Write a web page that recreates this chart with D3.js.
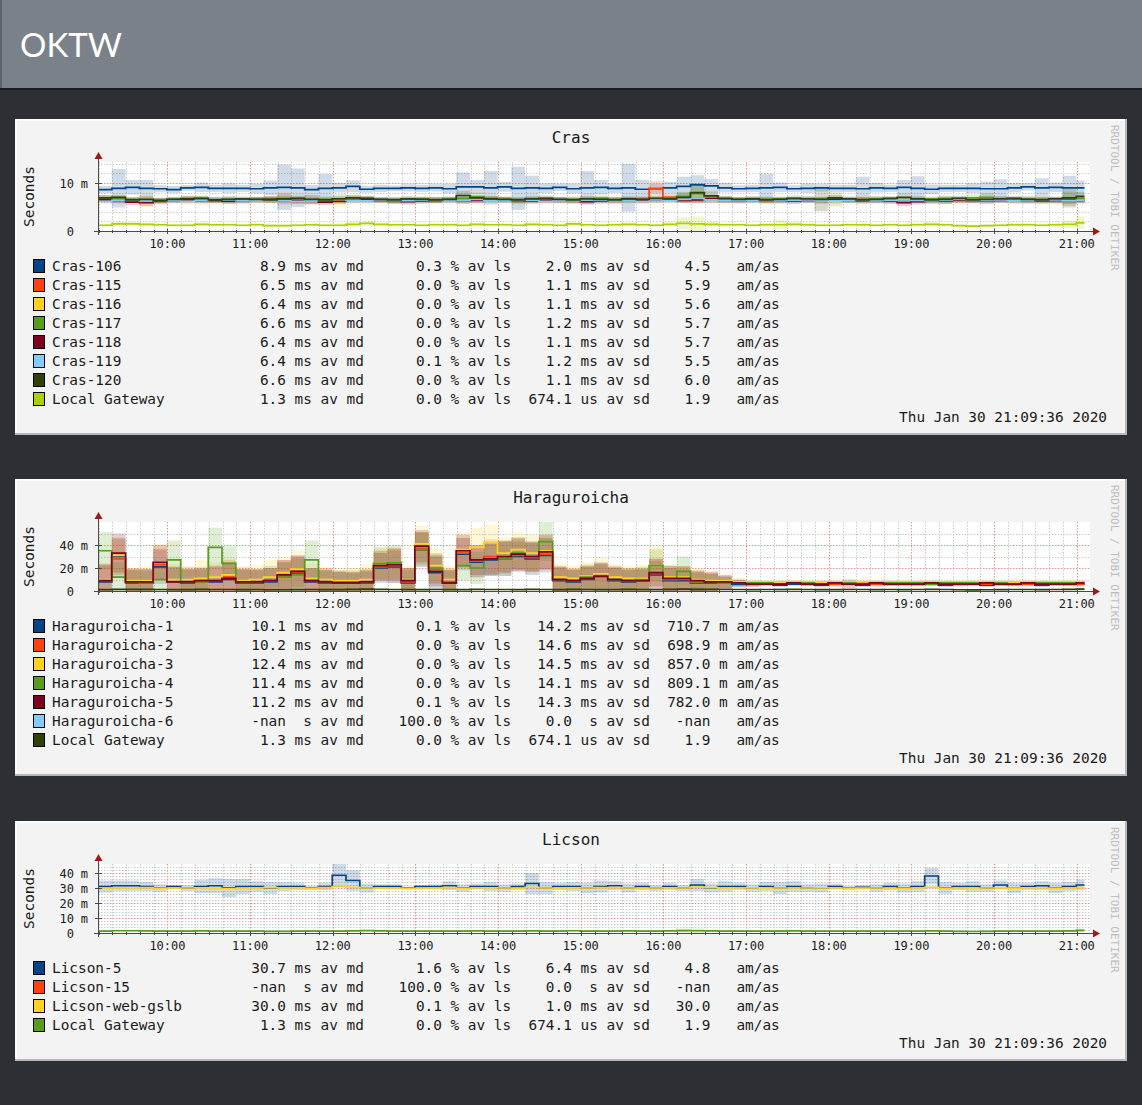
<!DOCTYPE html>
<html>
<head>
<meta charset="utf-8">
<title>OKTW</title>
<script src="https://cdn.jsdelivr.net/npm/d3@7/dist/d3.min.js"></script>
<style>
  body { margin:0; background:#2c3034; }
  svg { display:block; }
  text { font-family:"DejaVu Sans Mono", monospace; fill:#1a1a1a; white-space:pre; }
</style>
</head>
<body>
<svg id="page" width="1142" height="1105"></svg>
<script>
// ---- data: one value per 10 minutes, 9:10 .. 21:00 (ms) ----

// Cras
var crasNames = ['Cras-106','Cras-115','Cras-116','Cras-117','Cras-118','Cras-119','Cras-120','Local Gateway'];
var c106 = [8.6,8.9,9.1,8.9,8.8,8.6,9.0,9.1,8.9,8.9, 8.9,8.8,9.0,9.1,9.0,8.6,8.9,9.0,9.3,8.7, 8.9,8.9,9.0,8.9,9.0,8.8,9.2,9.2,9.0,9.2, 8.9,9.0,8.9,9.1,8.8,9.0,9.1,8.9,9.0,8.7, 8.8,9.0,9.3,9.6,9.4,9.0,8.8,8.9,9.0,9.1, 8.8,8.9,9.0,8.9,8.9,8.8,9.0,8.9,9.1,8.9, 8.7,8.9,8.9,8.9,8.8,8.8,9.0,9.2,9.0,9.1, 9.0,9.0];
var s106 = [1.5,8,3,3.5,1.5,1.5,1.2,2,1.5,2, 1.5,2,3,9.5,8,2,6,2,2.5,1.5, 1.5,1.2,1.5,1.5,1.5,2,6,3,7,2, 9,5,2,1.5,2,7,3,2,10,4, 2,2.5,4,4,3,2,1.5,1.5,6,2, 1.5,2,1.5,1.5,1.5,5,2,1.5,3,5, 2,1.5,1.5,2,3,4,2,1.5,4,2, 5,3];
var c115 = [6.8,6.6,6.4,6.5,6.3,6.4,6.6,6.5,6.3,6.4, 6.5,6.4,6.6,6.7,6.4,6.5,6.3,6.4,6.6,6.5, 6.4,6.3,6.5,6.6,6.4,6.5,6.3,6.6,6.7,6.5, 6.4,6.5,6.6,6.3,6.4,6.5,6.6,6.4,6.5,6.6, 8.9,7.0,6.5,6.7,6.6,6.4,6.5,6.5,6.3,6.4, 6.6,6.5,6.3,6.4,6.5,6.6,6.4,6.3,6.5,6.4, 6.2,6.3,6.5,6.4,6.6,6.5,6.3,6.4,6.6,6.5, 6.4,6.5];
var s115 = [1,1.2,1,1.5,1,1,1.2,1,1,1.3, 1,1,1.5,2.5,1.5,1,1.2,1,1.3,1, 1,1.2,1,1,1.3,1,1,1.5,1.2,1, 1,1.3,1,1,1.2,1,1,1.3,1,1.2, 3,1.5,1.2,1.5,1.3,1,1.2,1,1,1.2, 1,1,1.3,1,1,1.2,1,1,1.5,1, 1,1.2,1,1,1.3,1,1.2,1,1,1.2, 1.5,1.3];
var c116 = [6.5,6.3,6.4,6.2,6.3,6.5,6.4,6.3,6.5,6.4, 6.2,6.3,6.4,6.5,6.6,6.3,6.4,6.2,6.3,6.5, 6.4,6.3,6.2,6.4,6.5,6.4,6.3,6.5,6.4,6.6, 6.3,6.4,6.5,6.3,6.2,6.4,6.5,6.3,6.4,6.5, 6.6,6.4,6.5,6.7,6.5,6.3,6.4,6.5,6.3,6.4, 6.5,6.4,6.3,6.2,6.4,6.5,6.6,6.4,6.3,6.4, 6.3,6.2,6.4,6.5,6.6,6.4,6.3,6.5,6.4,6.3, 6.5,6.4];
var s116 = [1,1.2,1.1,2.5,1,1,1.2,1,1.1,1, 1.2,1,1.1,1.3,1,1,1.2,2.5,1.5,1, 1.1,1,1.2,1,1.1,1,1.3,1,1,1.2, 1,1.1,1.2,1,1,1.1,1.3,1,1.1,1, 1.5,1.2,1,2,1.1,1,1.2,1,1,1.1, 1,1.2,1,1,1.1,1,1,1.2,1,1, 1.1,1,1.2,1,1.3,1,1,1.1,1.2,1, 1.5,1.2];
var c117 = [6.9,6.7,6.6,6.5,6.4,6.6,6.7,6.8,6.6,6.5, 6.4,6.6,6.7,6.8,6.6,6.5,6.6,6.7,6.9,6.6, 6.5,6.4,6.6,6.7,6.5,6.6,6.8,7.1,6.7,6.6, 6.5,6.6,6.7,6.5,6.6,6.7,6.8,6.6,6.5,6.6, 6.7,6.8,7.2,7.8,7.0,6.7,6.6,6.5,6.6,6.7, 6.5,6.6,6.7,6.6,6.5,6.6,6.7,6.5,6.4,6.6, 6.7,6.8,6.6,6.9,7.0,6.6,6.5,6.7,6.6,6.5, 6.7,6.8];
var s117 = [1.2,1.1,1,1.3,1.2,1,1.1,1.2,1,1.3, 1.1,1,1.2,1.5,1.1,1,1.2,2,1.3,1.1, 1,1.2,1.1,1,1.2,1.1,1.5,1.8,1.2,1, 1.1,1.2,1,1.1,1.3,1,1.2,1.1,1,1.2, 1.1,1.2,2,3,1.5,1.2,1,1.1,1.2,1, 1.1,1.2,1,3,1.2,1,1.1,1,1.2,1.1, 1,1.2,1.1,1.5,1.8,1.2,1,1.1,1,1.2, 3,1.5];
var c118 = [6.5,6.3,6.0,5.9,6.2,6.4,6.5,6.3,6.4,6.2, 6.3,6.5,6.6,6.4,6.3,6.5,6.0,6.2,6.5,6.6, 6.4,6.3,6.1,6.2,6.4,6.5,6.3,6.4,6.6,6.5, 6.3,6.2,6.4,6.5,6.3,6.1,6.2,6.4,6.5,6.3, 6.5,6.6,6.4,6.5,6.7,6.4,6.3,6.5,6.4,6.3, 6.2,6.4,6.5,6.6,6.4,6.3,6.4,6.2,5.9,6.1, 6.3,6.2,6.4,6.3,6.2,6.4,6.5,6.3,6.2,6.3, 6.4,6.3];
var s118 = [1.1,1,1.2,1.5,1.1,1,1.2,1.1,1,1.2, 1,1.1,1.2,1,1.1,2,1.2,1,1.1,1.3, 1,1.1,1.2,1,1.1,1,1.2,1.1,1,1.1, 1.2,1,1.1,1.2,1,1.1,1,1.2,1.1,1, 1.2,1.1,1,1.2,1.5,1.1,1,1.1,1.2,1, 1.1,1,1.2,1.1,1,1.2,1.1,1,1.5,1.2, 1,1.1,1.2,1,1.1,1,1.2,1.1,1,1.1, 1.2,1.1];
var c119 = [6.2,6.4,6.5,6.3,6.4,6.3,6.2,6.4,6.6,6.5, 6.3,6.4,6.5,6.3,6.2,6.4,6.5,6.6,6.4,6.3, 6.5,6.4,6.3,6.4,6.5,6.3,6.4,6.6,6.4,6.3, 6.5,6.4,6.2,6.4,6.3,6.5,6.4,6.3,6.4,6.2, 6.5,6.4,6.6,6.8,6.5,6.4,6.3,6.4,6.5,6.3, 6.4,6.5,6.4,6.3,6.4,6.5,6.3,6.4,6.5,6.4, 6.3,6.4,6.6,6.4,6.3,6.5,6.4,6.3,6.4,6.5, 6.3,6.4];
var s119 = [1.2,1.3,1.1,1.2,1,1.2,1.3,1.1,1.2,1.4, 1.2,1.1,1.3,1.2,1.1,1.2,1.3,1.2,1.1,1.2, 1.3,1.1,1.2,1.2,1.3,1.1,1.2,2,1.2,1.1, 1.2,1.3,1.1,1.2,1.2,1.3,1.1,1.2,1.3,1.2, 1.1,1.2,1.3,1.5,1.2,1.1,1.2,1.3,1.2,1.1, 1.2,1.3,1.1,1.2,1.2,1.1,1.3,1.2,1.1,1.2, 1.3,1.2,1.1,1.2,1.3,1.2,1.1,1.2,1.3,1.2, 1.4,1.2];
var c120 = [6.9,7.0,6.5,6.6,6.4,6.6,6.7,6.8,6.5,6.6, 6.7,6.6,6.5,6.7,6.8,6.6,6.5,6.7,6.9,6.8, 6.6,6.5,6.7,6.6,6.5,6.6,7.4,6.9,6.7,6.6, 6.5,6.7,6.8,6.6,6.5,6.7,6.6,6.5,6.7,6.6, 6.8,6.7,7.0,8.0,7.3,6.8,6.6,6.7,6.5,6.6, 6.8,6.7,6.6,6.9,6.7,6.5,6.6,6.8,7.0,6.7, 6.5,6.6,6.8,6.5,6.6,6.7,6.8,6.6,6.5,6.7, 6.9,7.2];
var s120 = [1.2,1,1.1,1.2,1,1.1,1.3,1,1.1,1.2, 1,1.1,1.2,1,1.1,2,1.1,1,1.2,1.1, 1,1.2,1.1,1,1.1,1.2,2,1.1,1,1.2, 1.1,1,1.2,1.1,1,1.1,1.2,1,1.1,1, 1.2,1.1,2,4,2,1.1,1,1.2,1.1,1, 1.2,1.1,5,1.2,1,1.1,1.2,1,1.5,1.1, 1,1.2,1.1,1,1.2,1.1,1,1.2,1.1,1, 4,2];

// Local Gateway (same host in every graph)
var gwMedian = [1.2,1.5,1.5,1.4,1.3,1.2,1.2,1.4,1.3,1.3, 1.2,1.3,1.1,1.1,1.2,1.3,1.2,1.2,1.4,1.6, 1.4,1.3,1.3,1.2,1.3,1.3,1.2,1.4,1.3,1.3, 1.2,1.4,1.3,1.2,1.5,1.3,1.2,1.3,1.4,1.3, 1.2,1.4,1.6,1.5,1.4,1.3,1.3,1.2,1.3,1.3, 1.4,1.3,1.2,1.2,1.3,1.3,1.2,1.3,1.2,1.3, 1.4,1.3,1.1,1.0,1.1,1.2,1.3,1.3,1.2,1.3, 1.4,1.7];
var gwSd = [0.6,0.8,0.7,0.6,0.5,0.6,0.7,0.6,0.5,0.6, 0.6,0.7,0.6,0.5,0.6,0.6,0.7,0.8,0.9,0.8, 0.6,0.6,0.5,0.6,0.6,0.7,0.6,0.6,0.5,0.6, 0.6,0.7,0.6,0.6,0.8,0.6,0.5,0.6,0.7,0.6, 0.6,0.8,2.5,3,0.9,0.7,0.6,0.6,0.7,2, 0.8,0.6,0.6,0.5,0.6,0.6,0.7,0.6,0.6,0.7, 0.8,0.6,0.5,0.6,0.5,0.6,0.6,0.7,0.6,0.7, 1.5,2.5];

// Haraguroicha
var haraNames = ['Haraguroicha-1','Haraguroicha-2','Haraguroicha-3','Haraguroicha-4','Haraguroicha-5','Haraguroicha-6','Local Gateway'];
var h1 = [8,30,7,7,21,8,7,8,8,10, 7,7,8,12,15,8,7,7,7,7, 20,21,7,36,16,7,32,25,27,28, 30,28,31,9,8,10,12,9,8,9, 14,9,9,7,7,7,6,6,6,5, 6,6,5,6,6,5,6,6,6,6, 6,5,6,6,5,6,6,6,5,6, 6,6];
var h2 = [9,28,8,7,23,8,8,8,9,12, 8,8,9,13,16,9,8,7,7,8, 21,22,8,37,19,8,33,26,30,29, 31,29,32,10,9,11,12,10,9,9, 15,10,10,8,8,7,7,6,7,6, 7,6,6,6,7,7,6,6,7,6, 6,6,6,7,6,6,6,6,6,7, 6,6];
var h3 = [10,31,9,9,25,10,10,11,12,14, 9,10,12,16,19,11,10,9,9,10, 24,25,10,41,22,10,36,38,42,33, 36,33,35,12,11,13,15,12,11,11, 22,12,12,10,9,9,8,8,8,8, 8,8,8,8,8,8,8,8,8,8, 8,8,8,8,8,8,8,8,8,8, 8,8];
var h4 = [35,12,8,8,10,27,8,8,38,24, 8,8,9,12,14,27,8,8,8,8, 24,25,9,36,20,8,22,20,28,28, 33,30,43,10,9,12,12,10,9,10, 22,10,17,8,8,7,7,7,7,6, 7,7,6,7,7,6,7,7,7,7, 6,7,7,7,7,7,6,7,7,7, 7,7];
var h5 = [9,33,8,8,25,8,8,9,9,11, 8,8,9,14,17,9,8,7,7,8, 22,23,9,39,17,7,35,27,28,30, 32,30,34,10,9,11,13,10,9,9, 16,11,11,9,8,8,7,6,6,6, 7,6,6,7,6,6,7,6,6,6, 7,6,6,6,7,6,6,7,6,6, 6,7];
var sh1 = [28,32,22,24,30,26,24,22,26,28, 24,22,24,26,30,24,22,20,18,20, 26,28,22,30,30,22,28,26,28,30, 26,28,30,22,20,22,24,22,20,22, 24,22,20,18,16,12,6,4,3,3, 3,3,4,3,3,3,3,3,4,3, 3,3,3,3,3,3,3,3,3,3, 3,4];
var sh2 = [30,34,24,20,28,22,26,22,24,30, 26,22,20,28,28,20,24,18,20,22, 24,30,24,28,26,24,26,28,30,28, 28,26,28,24,22,20,22,24,22,20, 26,20,22,18,18,10,5,4,3,3, 4,3,3,4,3,3,4,3,3,4, 3,3,4,3,3,3,4,3,3,3, 4,3];
var sh3 = [26,32,22,26,32,28,22,32,26,28, 22,26,30,28,32,26,22,20,22,26, 28,26,24,32,30,24,30,34,32,28, 30,32,28,24,22,24,28,22,22,24, 34,22,20,20,16,12,6,4,3,3, 3,3,3,3,3,4,3,3,3,3, 3,3,3,3,4,3,3,3,3,3, 3,3];
var sh4 = [32,26,22,22,28,34,22,26,34,30, 22,22,26,26,28,34,22,20,20,22, 28,30,22,30,26,22,26,28,30,30, 28,26,34,22,20,22,24,20,22,22, 28,24,26,18,14,10,5,4,3,3, 3,3,3,3,3,3,3,4,3,3, 3,3,3,3,3,3,3,3,3,3, 3,3];
var sh5 = [28,34,22,22,30,26,22,22,26,28, 22,22,22,26,28,22,20,20,18,20, 26,28,22,28,26,22,28,26,28,28, 28,26,30,22,20,22,24,22,20,20, 24,22,21,18,16,12,6,4,3,3, 3,3,3,3,8,3,3,3,3,3, 3,3,3,3,3,3,3,3,3,3, 3,3];

// Licson
var licsonNames = ['Licson-5','Licson-15','Licson-web-gslb','Local Gateway'];
var l5 = [31,31.5,31.5,31,30,31,30,31,31.5,30, 31,31,30,31,31,30,31,38.5,35,30, 31,31,30,31,31,31.5,30,31,31,30, 31,33,30,31,31,30,31,31.5,30,31, 30,31,30,32,30,31,31,30,31,30, 31,30,30,31,30,30.5,30,31,30,31, 38,30,31,31,30,32,30,31,31.5,30, 31,32];
var sl5 = [8,7,7,6,5,2,4,9,10,12, 10,7,8,6,5,3,5,16,14,6, 3,3,2,2,3,6,5,4,6,5, 4,14,8,5,6,7,8,6,6,5, 4,5,4,8,6,7,5,5,6,8, 7,5,6,4,3,3,5,5,6,7, 11,8,5,7,5,6,7,5,6,7, 6,7];
var lweb = [29.8,30,30,30.2,29.8,29.9,30,30.1,29.7,29.5, 29.8,30,30.2,30,30.1,29.8,30.2,31,30.5,30, 29.9,30,29.8,29.7,30,30.2,29.8,30,30.1,30, 29.6,30.5,30,29.9,30.1,30,30.2,30.3,30,29.8, 30,30.1,30,30.6,30.2,29.9,30,30.1,29.9,30, 30,30,30.1,30,29.8,29.9,30,29.7,29.8,30, 30.5,29.8,30,29.9,30,30,29.9,30.1,30,29.8, 30,30.2];
var slweb = [1,1.2,0.8,1,0.9,1,1.1,1.3,1,1.5, 1.2,1,0.9,1,1.1,1,1.2,1.8,1.5,1, 0.9,1,1,0.8,1,1.1,1,0.9,1,1, 1.2,1.5,1,1,0.9,1,1.1,1,1,1.2, 1,1,0.9,1.3,1.1,1,1,1.5,1.2,1, 1,0.9,1,1.1,1,1,1,1.2,1,1, 1.2,1,1,0.9,1,1.1,1,1,1.2,1.1, 1.3,1.5];

// legend statistics: median, unit, loss %, sd, unit, am/as, unit
var crasStats = [
  ['8.9','ms','0.3','2.0','ms','4.5',''],
  ['6.5','ms','0.0','1.1','ms','5.9',''],
  ['6.4','ms','0.0','1.1','ms','5.6',''],
  ['6.6','ms','0.0','1.2','ms','5.7',''],
  ['6.4','ms','0.0','1.1','ms','5.7',''],
  ['6.4','ms','0.1','1.2','ms','5.5',''],
  ['6.6','ms','0.0','1.1','ms','6.0',''],
  ['1.3','ms','0.0','674.1','us','1.9','']
];
var haraStats = [
  ['10.1','ms','0.1','14.2','ms','710.7','m'],
  ['10.2','ms','0.0','14.6','ms','698.9','m'],
  ['12.4','ms','0.0','14.5','ms','857.0','m'],
  ['11.4','ms','0.0','14.1','ms','809.1','m'],
  ['11.2','ms','0.1','14.3','ms','782.0','m'],
  ['-nan','s','100.0','0.0','s','-nan',''],
  ['1.3','ms','0.0','674.1','us','1.9','']
];
var licsonStats = [
  ['30.7','ms','1.6','6.4','ms','4.8',''],
  ['-nan','s','100.0','0.0','s','-nan',''],
  ['30.0','ms','0.1','1.0','ms','30.0',''],
  ['1.3','ms','0.0','674.1','us','1.9','']
];

var palette = ['#004586','#ff420e','#ffd320','#579d1c','#7e0021','#83caff','#314004','#aecf00'];
var stamp = 'Thu Jan 30 21:09:36 2020';

var panels = [
  { title:'Cras', top:119, yMax:14.375, labels:[0,10], major:10, minor:2,
    names:crasNames, stats:crasStats,
    median:[c106,c115,c116,c117,c118,c119,c120,gwMedian],
    sd:[s106,s115,s116,s117,s118,s119,s120,gwSd] },
  { title:'Haraguroicha', top:479, yMax:60, labels:[0,20,40], major:20, minor:10,
    names:haraNames, stats:haraStats,
    median:[h1,h2,h3,h4,h5,null,gwMedian],
    sd:[sh1,sh2,sh3,sh4,sh5,null,gwSd] },
  { title:'Licson', top:821, yMax:46, labels:[0,10,20,30,40], major:10, minor:2,
    names:licsonNames, stats:licsonStats,
    median:[l5,null,lweb,gwMedian],
    sd:[sl5,null,slweb,gwSd] }
];

// ---- drawing ----
var t0 = new Date(2020,0,30,9,9,36), t1 = new Date(2020,0,30,21,9,36);
var x = d3.scaleTime().domain([t0,t1]).range([98,1090]);
var tEnd = new Date(+t1 - 4*60000);
function tAt(i){ return new Date(+t0 + i*600000); }

var svg = d3.select('#page');
var defs = svg.append('defs');
svg.append('rect').attr('width',1142).attr('height',1105).attr('fill','#2c3034');

// page header
svg.append('rect').attr('x',0).attr('y',0).attr('width',1142).attr('height',88).attr('fill','#7b8189');
svg.append('rect').attr('x',0).attr('y',0).attr('width',2).attr('height',88).attr('fill','#5f646b');
svg.append('rect').attr('x',0).attr('y',88).attr('width',1142).attr('height',2).attr('fill','#1b1e21');
svg.append('text').attr('x',20).attr('y',57).text('OKTW')
  .style('font-family','Lato, "Open Sans", sans-serif').style('font-size','33px').style('fill','#ffffff');

function legendLine(name, s){
  return name.padEnd(23) + s[0].padStart(4) + ' ' + s[1].padStart(2) + ' av md' +
    s[2].padStart(9) + ' % av ls' + s[3].padStart(7) + ' ' + s[4].padStart(2) + ' av sd' +
    s[5].padStart(7) + ' ' + (s[6] || ' ') + ' am/as';
}

panels.forEach(function(p, pi){
  var T = p.top, n = p.names.length, H = 164 + n*19, L = 15, W = 1112;
  var g = svg.append('g');

  // canvas with bevel
  g.append('rect').attr('x',L).attr('y',T).attr('width',W).attr('height',H).attr('fill','#f3f3f3');
  g.append('path').attr('d','M'+(L+1)+','+(T+H)+'V'+(T+1)+'H'+(L+W))
    .attr('fill','none').attr('stroke','#fdfdfd').attr('stroke-width',2);
  g.append('path').attr('d','M'+L+','+(T+H-1)+'H'+(L+W-1)+'V'+T)
    .attr('fill','none').attr('stroke','#b7b7b7').attr('stroke-width',2);

  var yTop = T+43, yBot = T+112;
  var y = d3.scaleLinear().domain([0,p.yMax]).range([yBot,yTop]);
  var xl = x.range()[0], xr = x.range()[1];

  g.append('rect').attr('x',xl).attr('y',yTop).attr('width',xr-xl).attr('height',yBot-yTop).attr('fill','#ffffff');

  // grid
  var minorT = x.ticks(d3.timeMinute.every(10)).filter(function(d){ return d.getMinutes() !== 0; });
  var hours = x.ticks(d3.timeHour.every(1));
  var minorY = d3.range(p.minor, p.yMax, p.minor).filter(function(v){ return v % p.major !== 0; });
  var majorY = d3.range(p.major, p.yMax, p.major);
  var grid = g.append('g').attr('stroke-dasharray','1.5,1.5').attr('stroke-width',1);
  grid.selectAll('.vm').data(minorT).join('line')
    .attr('x1',function(d){ return Math.round(x(d))+0.5; }).attr('x2',function(d){ return Math.round(x(d))+0.5; })
    .attr('y1',yTop).attr('y2',yBot).attr('stroke','#cccccc');
  grid.selectAll('.hm').data(minorY).join('line')
    .attr('x1',xl).attr('x2',xr)
    .attr('y1',function(v){ return Math.round(y(v))+0.5; }).attr('y2',function(v){ return Math.round(y(v))+0.5; })
    .attr('stroke','#cccccc');
  grid.selectAll('.vM').data(hours).join('line')
    .attr('x1',function(d){ return Math.round(x(d))+0.5; }).attr('x2',function(d){ return Math.round(x(d))+0.5; })
    .attr('y1',yTop).attr('y2',yBot).attr('stroke','#ef8f8f');
  grid.selectAll('.hM').data(majorY).join('line')
    .attr('x1',xl).attr('x2',xr)
    .attr('y1',function(v){ return Math.round(y(v))+0.5; }).attr('y2',function(v){ return Math.round(y(v))+0.5; })
    .attr('stroke','#ef8f8f');

  // smoke and median lines
  defs.append('clipPath').attr('id','clip'+pi).append('rect')
    .attr('x',xl).attr('y',yTop).attr('width',xr-xl).attr('height',yBot-yTop);
  var plot = g.append('g').attr('clip-path','url(#clip'+pi+')');
  function pts(m, s){
    var a = m.map(function(v,i){ return {t:tAt(i), m:v, s:s[i]}; });
    a.push({t:tEnd, m:m[m.length-1], s:s[s.length-1]});
    return a;
  }
  var smoke = d3.area().curve(d3.curveStepAfter)
    .x(function(d){ return x(d.t); })
    .y0(function(d){ return y(Math.max(0, d.m - d.s/2)); })
    .y1(function(d){ return y(d.m + d.s/2); });
  var line = d3.line().curve(d3.curveStepAfter)
    .x(function(d){ return x(d.t); })
    .y(function(d){ return y(d.m); });
  p.median.forEach(function(m,k){
    if (!m) return;
    plot.append('path').datum(pts(m,p.sd[k])).attr('d',smoke)
      .attr('fill',palette[k]).attr('fill-opacity',0.19);
  });
  p.median.forEach(function(m,k){
    if (!m) return;
    plot.append('path').datum(pts(m,p.sd[k])).attr('d',line)
      .attr('fill','none').attr('stroke',palette[k]).attr('stroke-width',1.7);
  });

  // axes
  var ax = g.append('g').attr('stroke','#4a4a4a');
  ax.append('line').attr('x1',94).attr('x2',1095).attr('y1',yBot+0.5).attr('y2',yBot+0.5);
  ax.append('line').attr('x1',98.5).attr('x2',98.5).attr('y1',yBot+4).attr('y2',yTop-4);
  ax.selectAll('.th').data(hours).join('line')
    .attr('x1',function(d){ return Math.round(x(d))+0.5; }).attr('x2',function(d){ return Math.round(x(d))+0.5; })
    .attr('y1',yBot-2).attr('y2',yBot+3);
  ax.selectAll('.tm').data(minorT).join('line')
    .attr('x1',function(d){ return Math.round(x(d))+0.5; }).attr('x2',function(d){ return Math.round(x(d))+0.5; })
    .attr('y1',yBot-1).attr('y2',yBot+2);
  ax.selectAll('.ty').data(p.labels).join('line')
    .attr('x1',95).attr('x2',102)
    .attr('y1',function(v){ return Math.round(y(v))+0.5; }).attr('y2',function(v){ return Math.round(y(v))+0.5; });
  g.append('path').attr('d','M1093,'+(yBot-3.5)+'L1100,'+(yBot+0.5)+'L1093,'+(yBot+4.5)+'Z').attr('fill','#a01818');
  g.append('path').attr('d','M94.5,'+(yTop-3)+'L98.5,'+(yTop-10)+'L102.5,'+(yTop-3)+'Z').attr('fill','#a01818');

  // axis labels
  var fmt = d3.timeFormat('%H:%M');
  g.selectAll('.xl').data(hours).join('text')
    .attr('x',function(d){ return x(d); }).attr('y',T+129).attr('text-anchor','middle')
    .style('font-size','12px').text(fmt);
  g.selectAll('.yl').data(p.labels).join('text')
    .attr('x',74).attr('y',function(v){ return y(v)+4.5; }).attr('text-anchor','end')
    .style('font-size','12px').text(function(v){ return String(v); });
  g.selectAll('.yu').data(p.labels.filter(function(v){ return v !== 0; })).join('text')
    .attr('x',88).attr('y',function(v){ return y(v)+4.5; }).attr('text-anchor','end')
    .style('font-size','12px').text('m');
  g.append('text').attr('transform','translate(34,'+((yTop+yBot)/2)+') rotate(-90)')
    .attr('text-anchor','middle').style('font-size','14.5px').text('Seconds');

  // title and watermark
  g.append('text').attr('x',571).attr('y',T+24).attr('text-anchor','middle')
    .style('font-size','16px').text(p.title);
  g.append('text').attr('transform','translate(1111,'+(T+6)+') rotate(90)')
    .style('font-size','11px').style('fill','#bdbdbd').text('RRDTOOL / TOBI OETIKER');

  // legend
  p.names.forEach(function(name,k){
    var cy = T + 147 + k*19;
    g.append('rect').attr('x',33.5).attr('y',cy-6.5).attr('width',11).attr('height',13)
      .attr('fill',palette[k]).attr('stroke','#000').attr('stroke-width',1);
    g.append('text').attr('x',52).attr('y',cy+5).attr('xml:space','preserve')
      .style('font-size','14.4px').text(legendLine(name, p.stats[k]));
  });
  g.append('text').attr('x',1107).attr('y',T+147+n*19+4).attr('text-anchor','end')
    .style('font-size','14.4px').text(stamp);
});
</script>
</body>
</html>
